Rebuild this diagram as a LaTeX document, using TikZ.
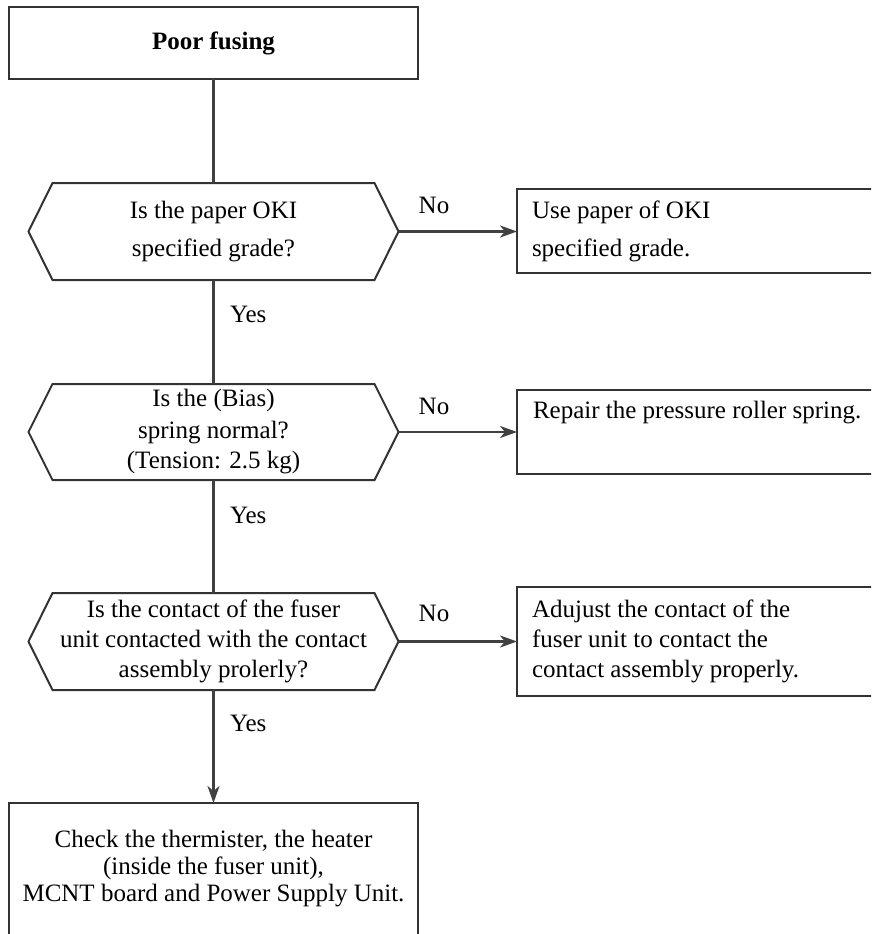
\documentclass[tikz,border=0pt]{standalone}
\usepackage{fontspec}
\setmainfont{Liberation Serif}
\usetikzlibrary{arrows.meta}
\begin{document}
\begin{tikzpicture}[x=1pt,y=-1pt,
  txt/.style={font=\fontsize{25}{30}\selectfont, inner sep=0pt, outer sep=0pt},
  lbox/.style={txt, draw=black!80, line width=2pt, rectangle},
  hexbox/.style={txt, minimum width=370pt, align=center},
  hexline/.style={draw=black!80, line width=2pt},
  conn/.style={draw=black!75, line width=2.5pt},
  arr/.style={conn, -{Stealth[length=17pt,width=12pt,inset=5pt]}},
]
\clip (0,0) rectangle (871,934);
\fill[white] (0,0) rectangle (871,934);

% start
\node[lbox, minimum width=409pt, minimum height=72pt, font=\bfseries\fontsize{25}{30}\selectfont] (t) at (213.5,43) {Poor fusing};

% decisions
\node[hexbox, minimum height=97pt] (h1) at (213.5,231.5) {Is the paper OKI\\[8pt]specified grade?};
\node[hexbox, minimum height=96pt] (h2) at (213.5,432) {Is the (Bias)\\[2pt]spring normal?\\(Tension: 2.5 kg)};
\node[hexbox, minimum height=97pt] (h3) at (213.5,641.5) {Is the contact of the fuser\\unit contacted with the contact\\assembly prolerly?};
\foreach \h in {h1,h2,h3}
  \draw[hexline] (\h.west) -- ([xshift=24pt]\h.north west) -- ([xshift=-24pt]\h.north east) -- (\h.east) -- ([xshift=-24pt]\h.south east) -- ([xshift=24pt]\h.south west) -- cycle;

% actions
\node[lbox, anchor=west, minimum width=420pt, minimum height=84pt, text width=390pt, inner xsep=15pt, align=flush left] (r1) at (517,231) {Use paper of OKI\\[8pt]specified grade.};
\node[lbox, anchor=west, minimum width=420pt, minimum height=84pt] (r2) at (517,432) {};
\node[txt, anchor=west] (r2t) at (533,413) {Repair the pressure roller spring.};
\node[lbox, anchor=west, minimum width=420pt, minimum height=109pt, text width=390pt, inner xsep=15pt, align=flush left] (r3) at (517,641.5) {Adujust the contact of the\\fuser unit to contact the\\contact assembly properly.};

% end
\node[lbox, anchor=north, minimum width=409pt, minimum height=160pt] (b) at (213.5,803) {};
\node[txt, align=center, font=\fontsize{25}{27}\selectfont] (bt) at (213.5,869) {Check the thermister, the heater\\(inside the fuser unit),\\MCNT board and Power Supply Unit.};

% connectors
\draw[conn] (t.south) -- (h1.north);
\draw[conn] (h1.south) -- (h2.north);
\draw[conn] (h2.south) -- (h3.north);
\draw[arr] (h3.south) -- (b.north);
\draw[arr] (h1.east) -- (h1.east -| r1.west);
\draw[arr] (h2.east) -- (h2.east -| r2.west);
\draw[arr] (h3.east) -- (h3.east -| r3.west);

% labels
\node[txt] (n1) at (434,205) {No};
\node[txt] (n2) at (434,406) {No};
\node[txt] (n3) at (434,613) {No};
\node[txt, anchor=west] (y1) at (230,314) {Yes};
\node[txt, anchor=west] (y2) at (230,515) {Yes};
\node[txt, anchor=west] (y3) at (230,723) {Yes};
\end{tikzpicture}
\end{document}
